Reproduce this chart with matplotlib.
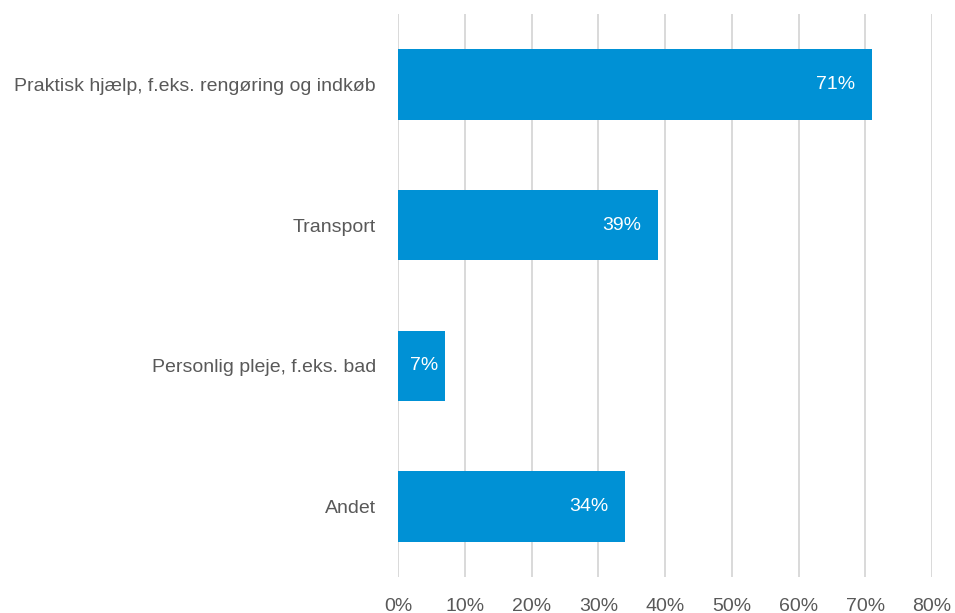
import matplotlib.pyplot as plt
from matplotlib import font_manager

categories = ["Praktisk hjælp, f.eks. rengøring og indkøb", "Transport",
              "Personlig pleje, f.eks. bad", "Andet"]
values = [71, 39, 7, 34]
xticks = [0, 10, 20, 30, 40, 50, 60, 70, 80]

names = {f.name for f in font_manager.fontManager.ttflist}
fam = "Liberation Sans Narrow" if "Liberation Sans Narrow" in names else "Liberation Sans"
plt.rcParams["font.family"] = [fam, "DejaVu Sans"]

grey = "#595959"
blue = "#0091D5"

fig = plt.figure(figsize=(9.55, 6.13), dpi=100)
ax = fig.add_axes([0.4168, 0.0587, 0.5592, 0.9185])

y = list(range(len(categories)))
ax.barh(y, values, height=0.5, color=blue, zorder=3)

ax.set_xlim(0, 80)
ax.set_ylim(3.5, -0.5)
ax.set_xticks(xticks)
ax.set_xticklabels([f"{t}%" for t in xticks])
ax.set_yticks(y)
ax.set_yticklabels(categories)
ax.tick_params(axis="y", length=0, pad=16, labelsize=14, labelcolor=grey)
ax.tick_params(axis="x", length=0, pad=15, labelsize=14, labelcolor=grey)
ax.grid(axis="x", color="#D9D9D9", linewidth=1.4, zorder=0)
for s in ax.spines.values():
    s.set_visible(False)

for yi, v in zip(y, values):
    if v < 10:
        ax.text(v / 2 + 0.4, yi, f"{v}%", ha="center", va="center", color="white", fontsize=14)
    else:
        ax.text(v - 2.5, yi, f"{v}%", ha="right", va="center", color="white", fontsize=14)

fig.savefig("out.png", dpi=100)
